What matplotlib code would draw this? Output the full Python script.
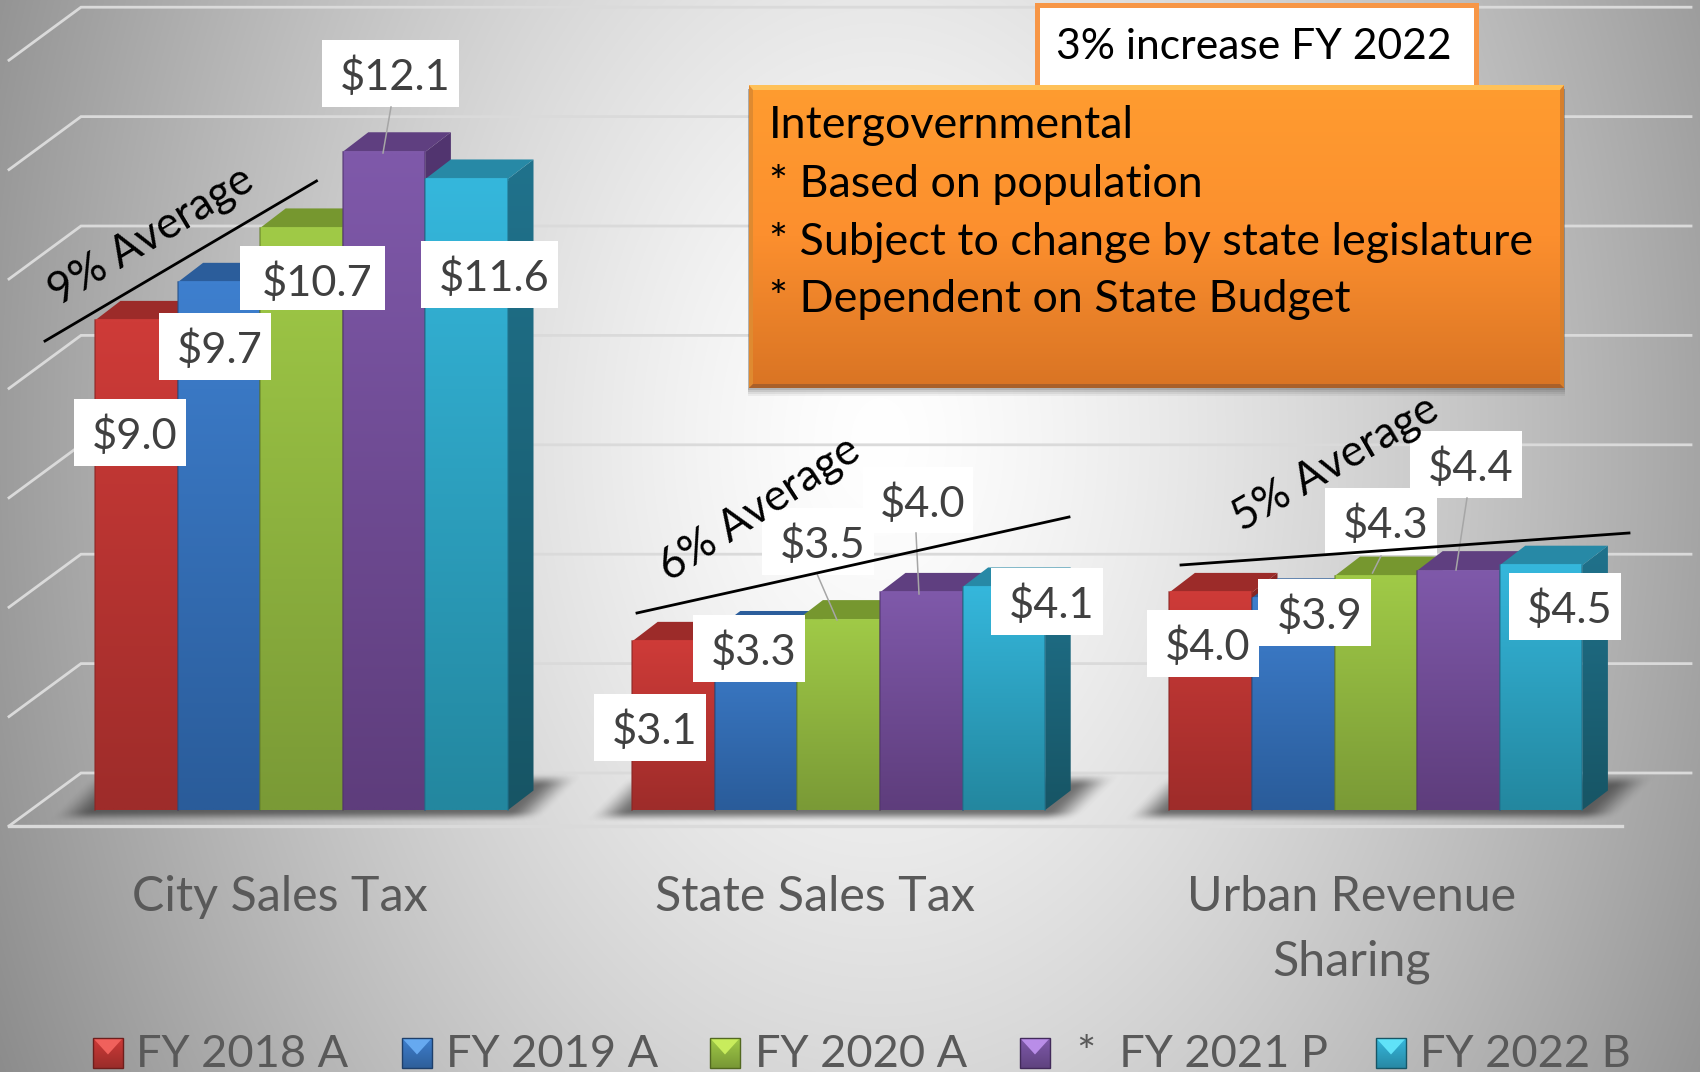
import numpy as np
import matplotlib
matplotlib.use("Agg")
import matplotlib.pyplot as plt
from matplotlib.patches import Polygon, Rectangle

# ---------- data ----------
CATEGORIES = ["City Sales Tax", "State Sales Tax", "Urban Revenue\nSharing"]
SERIES_NAMES = ["FY 2018 A", "FY 2019 A", "FY 2020 A", "*  FY 2021 P", "FY 2022 B"]
FY2018 = [9.0, 3.1, 4.0]
FY2019 = [9.7, 3.3, 3.9]
FY2020 = [10.7, 3.5, 4.3]
FY2021 = [12.1, 4.0, 4.4]
FY2022 = [11.6, 4.1, 4.5]
GRID_TICKS = [0, 2, 4, 6, 8, 10, 12, 14]
AVERAGE_LABELS = ["9% Average", "6% Average", "5% Average"]
NOTE_TITLE = "3% increase FY 2022"
NOTE_LINES = ["Intergovernmental", "* Based on population",
              "* Subject to change by state legislature", "* Dependent on State Budget"]

# ---------- styles / layout (pixels of the 1700x1072 canvas) ----------
W, H = 1700, 1072
FONT = "Lato"
PX_PER_UNIT = 54.4
BASE_PX = 810
GROUP0_PX = 301.5
GROUP_STEP = 537.2
BAR_PX = 82.6
DEPTH_X, DEPTH_Y = 25.5, 19.5
FRONT_TOP = ["#CE3B38", "#3E7FCE", "#A0CA47", "#7F59AA", "#35B7DC"]
FRONT_BOT = ["#9E2C2A", "#2A5C9A", "#7A9A36", "#5E3D7C", "#23879F"]
TOP_FACE = ["#9C2B29", "#2B5D9B", "#76972F", "#5F3F80", "#2789A6"]
SIDE_TOP = ["#8A2624", "#264F85", "#668229", "#523570", "#20728C"]
SIDE_BOT = ["#6E1E1C", "#1E3F6A", "#526820", "#422A5A", "#175565"]
LIGHT = ["#F0615C", "#66A9F0", "#C8EC5C", "#B98DE8", "#60E2F8"]
TEXT_GREY = "#404040"
AXIS_GREY = "#595959"

VALUE_BOXES = [
    [(74, 399, 186, 466), (159, 313, 271, 380), (240, 246, 385, 310), (322, 40, 459, 107), (421, 241, 558, 308)],
    [(594, 694, 706, 761), (693, 615, 805, 682), (762, 508, 874, 575), (863, 467, 973, 533), (991, 568, 1103, 635)],
    [(1147, 610, 1259, 677), (1258, 579, 1371, 646), (1325, 488, 1437, 555), (1410, 431, 1522, 498), (1509, 573, 1621, 640)],
]
LEADERS = [((391, 107), (383, 153)), ((817.5, 575), (837, 620)), ((916, 533), (919, 594)),
           ((1381, 556), (1372.5, 573)), ((1467, 498), (1456, 570))]
AVG_LINES = [((45, 341), (316.5, 181)), ((637, 613), (1069, 517)), ((1181, 565), (1629, 533))]
AVG_TEXT = [(151, 236, 31), (759, 509, 33), (1336, 464, 30)]
CAT_LABEL_X = [280, 815, 1352]
LEG_MARK_X = [93, 402, 710, 1020, 1376]
LEG_TEXT_X = [136, 446, 755, 1077, 1420]

plt.rcParams["font.family"] = [FONT, "DejaVu Sans"]
fig = plt.figure(figsize=(W / 100, H / 100), dpi=100)


def sm(t):
    t = np.clip(t, 0, 1)
    return t * t * (3 - 2 * t)


# background
bg = fig.add_axes([0, 0, 1, 1], zorder=0)
bg.set_xlim(0, W); bg.set_ylim(H, 0); bg.axis("off")
yy, xx = np.mgrid[0:H, 0:W]
d = np.sqrt(((xx - 880) / 900.0) ** 2 + ((yy - 440) / 1300.0) ** 2)
val = 1 - 0.40 * np.clip(d, 0, 1.3) ** 1.35
bg.imshow(np.dstack([val] * 3), extent=(0, W, H, 0), aspect="auto", zorder=0)

# data axes: y maps dollars, x maps category index
ax = fig.add_axes([0, 0, 1, 1], zorder=1)
ax.patch.set_alpha(0)
ax.axis("off")
XLIM = (-GROUP0_PX / GROUP_STEP, (W - GROUP0_PX) / GROUP_STEP)
YLIM = (-(H - BASE_PX) / PX_PER_UNIT, BASE_PX / PX_PER_UNIT)

dx = DEPTH_X / GROUP_STEP
dy = DEPTH_Y / PX_PER_UNIT
bw = BAR_PX / GROUP_STEP
GRID_SCALE = 1.0055
back_off = (BASE_PX - 773) / PX_PER_UNIT
front_off = (BASE_PX - 826) / PX_PER_UNIT
x_lf = (9 - GROUP0_PX) / GROUP_STEP
x_lb = (81 - GROUP0_PX) / GROUP_STEP
x_rb = (1691 - GROUP0_PX) / GROUP_STEP
x_rf = (1622 - GROUP0_PX) / GROUP_STEP
GRID_C = "#DADADA"
for v in GRID_TICKS:
    yv = v * GRID_SCALE
    ax.plot([x_lf, x_lb, x_rb], [yv + front_off, yv + back_off, yv + back_off],
            color=GRID_C, lw=2.0, zorder=1, solid_joinstyle="miter")
ax.plot([x_lf, x_rf], [front_off, front_off], color=GRID_C, lw=2.4, zorder=1)

# soft floor shadow
alpha = np.zeros((H, W))
for g in range(len(CATEGORIES)):
    left = GROUP0_PX + g * GROUP_STEP - 2.5 * BAR_PX
    u = xx - (816 - yy)
    a = sm((u - (left - 46)) / 40) * sm(((left + 5 * BAR_PX + 36) - u) / 40)
    a = a * sm((yy - 772) / 14) * sm((822 - yy) / 12)
    alpha = np.maximum(alpha, a * 0.66)
rgba = np.zeros((H, W, 4))
rgba[..., :3] = 0.2
rgba[..., 3] = alpha
ax.imshow(rgba, extent=(XLIM[0], XLIM[1], YLIM[0], YLIM[1]), aspect="auto", zorder=2, origin="upper")


def grad_poly(verts, top, bot, z):
    verts = np.array(verts)
    c1, c2 = np.array(matplotlib.colors.to_rgb(top)), np.array(matplotlib.colors.to_rgb(bot))
    t = np.linspace(0, 1, 128)[:, None, None]
    img = c1[None, None, :] * (1 - t) + c2[None, None, :] * t
    im = ax.imshow(img, extent=(verts[:, 0].min(), verts[:, 0].max(), verts[:, 1].min(), verts[:, 1].max()),
                   aspect="auto", zorder=z, origin="upper", interpolation="bilinear")
    im.set_clip_path(Polygon(verts, closed=True, transform=ax.transData))


series = [FY2018, FY2019, FY2020, FY2021, FY2022]
z = 3.0
for g in range(len(CATEGORIES)):
    for s, vals in enumerate(series):
        v = vals[g]
        x0 = g + (s - 2.5) * bw
        x1 = x0 + bw
        # side
        grad_poly([(x1, 0), (x1 + dx, dy), (x1 + dx, v + dy), (x1, v)], SIDE_TOP[s], SIDE_BOT[s], z)
        z += 0.01
        # top
        ax.add_patch(Polygon([(x0, v), (x0 + dx, v + dy), (x1 + dx, v + dy), (x1, v)],
                             closed=True, fc=TOP_FACE[s], ec="none", zorder=z))
        z += 0.01
        # front
        grad_poly([(x0, 0), (x0, v), (x1, v), (x1, 0)], FRONT_TOP[s], FRONT_BOT[s], z)
        z += 0.01
        ax.plot([x0, x1], [v, v], color=FRONT_TOP[s], lw=2.2, zorder=z, solid_capstyle="butt", alpha=0.9)
        ax.plot([x0, x0], [0, v], color=SIDE_TOP[s], lw=1.1, zorder=z, alpha=0.7)
        ax.plot([x1, x1], [0, v], color=SIDE_TOP[s], lw=1.1, zorder=z, alpha=0.7)
        z += 0.01

ax.set_xlim(*XLIM)
ax.set_ylim(*YLIM)

# overlay in canvas pixels
ov = fig.add_axes([0, 0, 1, 1], zorder=2)
ov.patch.set_alpha(0)
ov.set_xlim(0, W); ov.set_ylim(H, 0); ov.axis("off")

# category labels
for g, c in enumerate(CATEGORIES):
    for k, part in enumerate(c.split("\n")):
        ov.text(CAT_LABEL_X[g], 911 + 64 * k, part, ha="center", va="baseline",
                fontsize=34.8, color=AXIS_GREY, zorder=5)

# value labels
for g in range(len(CATEGORIES)):
    for s, vals in enumerate(series):
        x0, y0, x1, y1 = VALUE_BOXES[g][s]
        ov.add_patch(Rectangle((x0, y0), x1 - x0, y1 - y0, fc="white", ec="none", zorder=6))
for (a, b) in LEADERS:
    ov.plot([a[0], b[0]], [a[1], b[1]], color="#A6A6A6", lw=1.1, zorder=7)
for g in range(len(CATEGORIES)):
    for s, vals in enumerate(series):
        x0, y0, x1, y1 = VALUE_BOXES[g][s]
        ov.text((x0 + x1) / 2 + 5, y0 + 50, f"${vals[g]:.1f}", ha="center", va="baseline",
                fontsize=31.2, color=TEXT_GREY, zorder=8)

# average lines
for (a, b), lab, (tx, ty, rot) in zip(AVG_LINES, AVERAGE_LABELS, AVG_TEXT):
    ov.plot([a[0], b[0]], [a[1], b[1]], color="black", lw=2.0, zorder=9)
    ov.text(tx, ty, lab, rotation=rot, rotation_mode="anchor", ha="center", va="center",
            fontsize=31.5, color="black", zorder=10)

# white note
ov.add_patch(Rectangle((1037, 5), 439, 84, fc="white", ec="#F79646", lw=3.6, zorder=11))
ov.text(1254, 59, NOTE_TITLE, ha="center", va="baseline", fontsize=30.7, color="black", zorder=12)

# orange box
BX0, BY0, BX1, BY1 = 749, 85, 1564, 388
for grow, al in [(8, 0.07), (6, 0.09), (4, 0.12), (2, 0.15)]:
    ov.add_patch(Rectangle((BX0 - 1, BY0 + 4), BX1 - BX0 + 2, BY1 - BY0 + grow - 4, fc="#444444", alpha=al, ec="none", zorder=12.5))
t = np.linspace(0, 1, 200)[:, None, None]
ctop = np.array(matplotlib.colors.to_rgb("#FF9C30"))
cmid = np.array(matplotlib.colors.to_rgb("#FC8F2E"))
cbot = np.array(matplotlib.colors.to_rgb("#D97424"))
grad = np.where(t < 0.5, ctop * (1 - t * 2) + cmid * (t * 2), cmid * (2 - t * 2) + cbot * (t * 2 - 1))
ov.imshow(grad, extent=(BX0, BX1, BY1, BY0), aspect="auto", zorder=13, origin="upper")
b = 4
ov.add_patch(Polygon([(BX0, BY0), (BX1, BY0), (BX1 - b, BY0 + b + 1), (BX0 + b, BY0 + b + 1)], fc="#FFC158", ec="none", zorder=13.1))
ov.add_patch(Polygon([(BX0, BY1), (BX1, BY1), (BX1 - b, BY1 - b), (BX0 + b, BY1 - b)], fc="#A9602A", ec="none", zorder=13.1))
ov.add_patch(Polygon([(BX0, BY0), (BX0 + b, BY0 + b), (BX0 + b, BY1 - b), (BX0, BY1)], fc="#DF8A30", ec="none", zorder=13.05))
ov.add_patch(Polygon([(BX1, BY0), (BX1 - b, BY0 + b), (BX1 - b, BY1 - b), (BX1, BY1)], fc="#D67F2C", ec="none", zorder=13.05))
for ln, base in zip(NOTE_LINES, [138, 197, 255, 312]):
    ov.text(769, base, ln, ha="left", va="baseline", fontsize=32.3, color="black", zorder=14)

# legend
for s, name in enumerate(SERIES_NAMES):
    mx = LEG_MARK_X[s]
    my, mw, mh = 1038, 30, 30
    ov.imshow(np.array(matplotlib.colors.to_rgb(FRONT_TOP[s]))[None, None, :] * (1 - np.linspace(0, 1, 32)[:, None, None] * 0.25),
              extent=(mx, mx + mw, my + mh, my), aspect="auto", zorder=5, origin="upper")
    ov.add_patch(Polygon([(mx, my), (mx + mw, my), (mx + mw / 2, my + mh * 0.55)], fc=LIGHT[s], ec="none", zorder=5.1))
    ov.add_patch(Rectangle((mx, my), mw, mh, fc="none", ec=SIDE_BOT[s], lw=1.0, zorder=5.2))
    ov.text(LEG_TEXT_X[s], 1067, name, ha="left", va="baseline", fontsize=32.5, color=AXIS_GREY, zorder=5)

ov.set_xlim(0, W); ov.set_ylim(H, 0)
fig.savefig("out.png", dpi=100)
